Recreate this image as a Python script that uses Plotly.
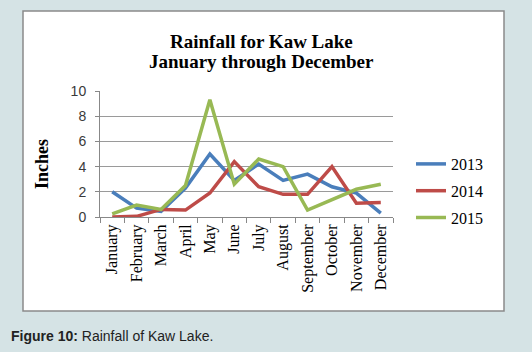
import plotly.graph_objects as go

months = ["January", "February", "March", "April", "May", "June", "July",
          "August", "September", "October", "November", "December"]
rain_2013 = [2.0, 0.7, 0.45, 2.3, 5.0, 2.9, 4.2, 2.9, 3.4, 2.4, 1.9, 0.3]
rain_2014 = [0.0, 0.05, 0.6, 0.55, 1.9, 4.4, 2.4, 1.8, 1.8, 4.0, 1.1, 1.15]
rain_2015 = [0.25, 0.95, 0.6, 2.5, 9.3, 2.6, 4.6, 4.0, 0.55, 1.4, 2.2, 2.6]
y_ticks = [0, 2, 4, 6, 8, 10]

W, H = 532, 352
L, R, T, B = 100, 393, 91, 217  # plot area in pixels


def px(x):
    return (x - L) / (R - L)


def py(y):
    return (B - y) / (B - T)


fig = go.Figure()
series = [("2013", rain_2013, "#4A7EBB"),
          ("2014", rain_2014, "#BE4B48"),
          ("2015", rain_2015, "#98B954")]
for name, vals, col in series:
    fig.add_trace(go.Scatter(x=months, y=vals, mode="lines", name=name,
                             legendgroup=name,
                             line=dict(color=col, width=3.5)))

serif = "Liberation Serif, Times New Roman, serif"
sans = "Liberation Sans, Arial, sans-serif"

fig.update_layout(
    width=W, height=H,
    margin=dict(l=L, r=W - R, t=T, b=H - B),
    paper_bgcolor="#D5E3E5",
    plot_bgcolor="white",
    showlegend=True,
    legend=dict(x=px(411), y=py(147), xanchor="left", yanchor="top",
                bgcolor="rgba(0,0,0,0)", tracegroupgap=3,
                font=dict(family=serif, size=16, color="black")),
    xaxis=dict(type="category", range=[-0.5, 11.5],
               tickangle=-90, tickson="boundaries", ticks="outside",
               ticklen=5, tickcolor="#888", showgrid=False,
               showline=True, linecolor="#888", linewidth=1,
               tickfont=dict(family=serif, size=16, color="black")),
    yaxis=dict(range=[0, 10], tickvals=y_ticks, ticks="outside", ticklen=4,
               tickcolor="#888", showgrid=True, gridcolor="#9a9a9a",
               gridwidth=1, showline=True, linecolor="#888", linewidth=1,
               zeroline=False, ticklabelstandoff=6,
               tickfont=dict(family=sans, size=14, color="#3a3a3a")),
    shapes=[dict(type="rect", xref="paper", yref="paper",
                 x0=px(23), x1=px(504), y0=py(311), y1=py(11),
                 fillcolor="white", line=dict(color="#8a8a8a", width=1.5),
                 layer="below")],
    annotations=[
        dict(text="<b>Rainfall for Kaw Lake</b>", xref="paper", yref="paper",
             x=px(261), y=py(41), xanchor="center", yanchor="middle",
             showarrow=False,
             font=dict(family=serif, size=19, color="black")),
        dict(text="<b>January through December</b>", xref="paper", yref="paper",
             x=px(261), y=py(62), xanchor="center", yanchor="middle",
             showarrow=False,
             font=dict(family=serif, size=19, color="black")),
        dict(text="<b>Inches</b>", xref="paper", yref="paper",
             x=px(42), y=py(164), xanchor="center", yanchor="middle",
             showarrow=False, textangle=-90,
             font=dict(family=serif, size=18, color="black")),
        dict(text="<b>Figure 10:</b> Rainfall of Kaw Lake.", xref="paper",
             yref="paper", x=px(9), y=py(336), xanchor="left",
             yanchor="middle", showarrow=False,
             font=dict(family=sans, size=14, color="#222")),
    ],
)

fig.write_html("out.html")
